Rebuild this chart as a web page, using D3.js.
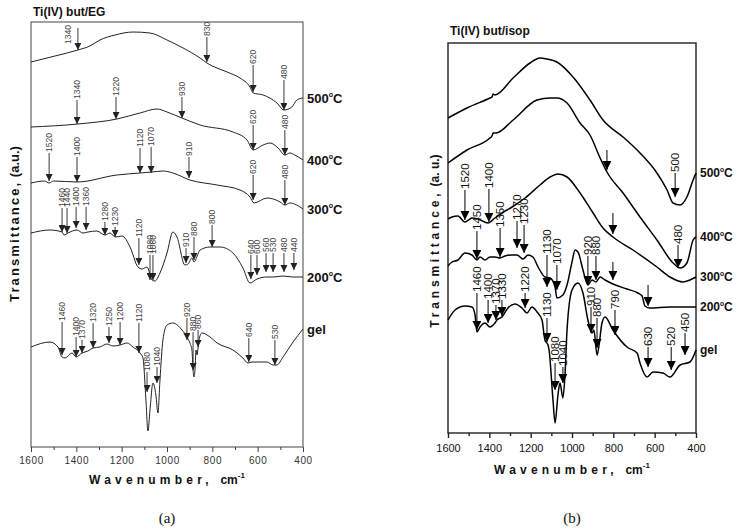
<!DOCTYPE html>
<html>
<head>
<meta charset="utf-8">
<script src="https://cdn.jsdelivr.net/npm/d3@7"></script>
<style>
body { margin: 0; background: #fff; }
svg { display: block; font-family: "Liberation Sans", Arial, sans-serif; }
</style>
</head>
<body>
<div id="chart"></div>
<script>
// x ticks, shared by both panels
var majorTicks = [1600, 1400, 1200, 1000, 800, 600, 400]
var minorTicks = [1500, 1300, 1100, 900, 700, 500]

/* (a) Ti(IV) but/EG : [wavenumber, transmittance a.u.] */
var eg500 = [[1600,385],[1494,391],[1393,397],[1340,401],[1296,407],[1229,412],[1150,415],[1075,414],[1000,407],[929,399],[854,389],[824,384],[735,375],[678,369],[634,360],[620,354],[576,352],[515,344],[484,337],[449,340],[427,347],[400,349]]
var eg400 = [[1600,320],[1393,323],[1221,328],[1119,334],[1044,338],[1000,335],[934,329],[854,322],[709,315],[647,307],[620,297],[576,302],[545,304],[510,299],[480,292],[458,294],[436,292],[400,287]]
var eg300 = [[1600,264],[1540,266],[1520,264],[1500,266],[1397,265],[1221,272],[1119,274],[1066,275],[1018,276],[974,274],[899,267],[779,262],[678,257],[634,250],[616,244],[559,249],[501,245],[480,242],[458,244],[400,238]]
var eg200 = [[1600,214],[1516,217],[1463,215],[1454,212],[1437,214],[1397,217],[1371,214],[1349,215],[1309,216],[1274,212],[1251,214],[1229,210],[1198,211],[1163,200],[1128,180],[1110,178],[1088,180],[1066,167],[1053,166],[1031,174],[1000,194],[974,215],[956,210],[921,182],[907,183],[890,189],[881,185],[854,197],[810,200],[766,200],[709,194],[665,179],[634,164],[603,168],[559,170],[532,170],[488,171],[444,170],[400,170]]
var egGel = [[1600,100],[1516,105],[1481,100],[1463,90],[1450,89],[1419,94],[1401,90],[1375,94],[1349,96],[1326,99],[1296,100],[1265,103],[1238,101],[1207,102],[1176,104],[1150,100],[1119,94],[1106,89],[1093,47],[1084,16],[1075,37],[1062,64],[1049,52],[1040,34],[1031,67],[1018,107],[1000,122],[974,124],[934,117],[912,110],[899,104],[890,97],[885,77],[881,70],[876,79],[872,97],[868,92],[859,107],[846,114],[810,110],[779,104],[709,97],[665,89],[643,84],[625,85],[590,85],[559,85],[532,82],[515,82],[488,90],[444,105],[400,118]]
var egNames = ["500", "400", "300", "200", "gel"]

// band marks: [label, arrow wavenumber, label bottom, arrow tip, (arrow top), (label wavenumber)]
var egBands500 = [["1340",1393,402,397,419,1437],["830",824,410,385],["620",620,382,355],["480",484,367,337]]
var egBands400 = [["1340",1397,347,323],["1220",1225,350,328],["930",934,350,329],["620",620,322,297],["480",480,317,292]]
var egBands300 = [["1520",1520,294,266],["1400",1397,290,265],["1120",1119,299,274],["1070",1070,300,274],["910",903,290,269],["620",620,272,247],["480",480,267,242]]
var egBands200 = [["1460",1463,239,215],["1440",1441,239,214],["1400",1401,240,219],["1360",1357,240,217],["1280",1274,225,212],["1230",1229,220,210],["1120",1124,209,182],["1080",1075,192,167],["1060",1062,192,167],["910",916,199,184],["880",881,210,187],["800",801,222,200],["640",630,192,168],["600",603,192,172],["560",563,194,175],["530",532,194,175],["480",484,194,175],["440",440,194,177]]
var egBandsGel = [["1460",1463,125,92],["1400",1401,110,90],["1370",1375,107,94],["1320",1326,124,99],["1250",1256,120,104],["1200",1207,125,102],["1120",1124,124,94],["1080",1088,75,55],["1040",1044,80,64],["920",912,129,107],["880",885,115,77],["860",863,117,100],["640",639,109,85],["530",524,107,82]]

/* (b) Ti(IV) but/isop */
var isop500 = [[1600,315],[1508,325],[1397,335],[1387,336],[1382,339],[1373,338],[1285,355],[1203,370],[1155,375],[1121,374],[1073,371],[995,356],[913,333],[850,313],[753,296],[671,280],[589,260],[540,243],[511,230],[477,228],[444,236],[414,253],[400,260]]
var isop400 = [[1600,270],[1508,283],[1397,295],[1387,297],[1382,300],[1368,300],[1285,313],[1169,333],[1106,335],[1073,335],[1024,330],[961,310],[913,298],[864,275],[831,261],[753,240],[671,216],[589,193],[511,170],[477,165],[444,170],[414,193],[400,196]]
var isop300 = [[1600,214],[1581,216],[1552,217],[1518,211],[1484,215],[1455,214],[1406,210],[1373,215],[1339,220],[1290,226],[1227,235],[1155,248],[1106,256],[1068,259],[1024,256],[961,240],[898,220],[850,205],[802,196],[705,183],[589,166],[526,156],[463,151],[429,153],[400,156]]
var isop200 = [[1600,167],[1581,171],[1552,173],[1518,180],[1484,178],[1460,173],[1445,176],[1421,173],[1397,176],[1373,176],[1348,175],[1324,177],[1290,178],[1266,178],[1237,174],[1213,178],[1189,176],[1164,166],[1131,156],[1106,155],[1082,146],[1073,135],[1044,138],[1024,148],[1000,171],[985,183],[971,181],[947,163],[923,148],[903,153],[884,151],[864,156],[840,153],[802,149],[734,144],[681,140],[661,137],[647,127],[623,125],[526,126],[400,126]]
var isopGel = [[1600,113],[1566,123],[1518,127],[1484,126],[1469,118],[1460,101],[1445,106],[1421,110],[1397,106],[1373,110],[1363,113],[1339,116],[1310,125],[1276,129],[1242,125],[1218,120],[1194,126],[1169,121],[1145,113],[1131,93],[1116,88],[1111,83],[1092,33],[1082,10],[1068,38],[1058,50],[1044,35],[1034,58],[1024,103],[1000,143],[971,150],[947,140],[923,113],[903,100],[894,103],[879,78],[869,88],[855,110],[840,116],[802,103],[734,86],[685,80],[671,70],[637,56],[608,61],[560,60],[526,56],[477,68],[429,71],[400,83]]
var isopNames = ["500", "400", "300", "200", "gel"]

var isopBands500 = [["500",501,260,236]]
var isopBands400 = [["",831,283,263],["480",487,188,165]]
var isopBands300 = [["1520",1518,243,213],["1400",1402,244,211],["",802,220,199]]
var isopBands200 = [["1450",1460,202,174],["1350",1348,205,176],["1270",1266,212,185],["1230",1232,208,180],["1130",1121,178,146],["1070",1073,168,143],["920",923,177,148],["880",884,177,153],["",802,171,153],["",632,148,127]]
var isopBandsGel = [["1460",1460,140,103],["1400",1406,133,110],["1370",1368,128,113],["1330",1339,133,117],["1220",1227,140,125],["1130",1121,115,91],["1080",1082,70,43],["1040",1044,66,50],["910",908,126,100],["880",879,115,85],["790",792,123,98],["630",632,86,66],["520",520,86,63],["450",453,100,78]]

var svg = d3.select("#chart").append("svg")
    .attr("width", 737)
    .attr("height", 530)

var defs = svg.append("defs")

function drawPanel(p) {
    var x = d3.scaleLinear().domain([1600, 400]).range([p.left, p.right])
    var y = d3.scaleLinear().domain([0, p.ymax]).range([p.bottom, p.top])
    var g = svg.append("g")

    defs.append("marker")
        .attr("id", p.id + "-arrow")
        .attr("markerUnits", "userSpaceOnUse")
        .attr("markerWidth", p.head * 2)
        .attr("markerHeight", p.head * 2)
        .attr("viewBox", "0 0 10 10")
        .attr("refX", 10).attr("refY", 5)
        .attr("orient", "auto")
        .append("path")
        .attr("d", "M0,0 L10,5 L0,10 Z")
        .attr("fill", p.ink)

    /* frame */
    g.append("rect")
        .attr("x", p.left).attr("y", p.top)
        .attr("width", p.right - p.left).attr("height", p.bottom - p.top)
        .attr("fill", "none")
        .attr("stroke", p.frame)
        .attr("stroke-width", p.frameW)

    /* x axis, major + minor */
    var xMajor = d3.axisBottom(x).tickValues(majorTicks).tickSize(5).tickPadding(p.pad).tickFormat(d3.format("d"))
    var xMinor = d3.axisBottom(x).tickValues(minorTicks).tickSize(3).tickFormat("")
    var ax = g.append("g").attr("transform", "translate(0," + p.bottom + ")").call(xMajor)
    g.append("g").attr("transform", "translate(0," + p.bottom + ")").call(xMinor)
        .call(s => s.select(".domain").remove())
        .selectAll("line").attr("stroke", p.frame).attr("stroke-width", p.frameW)
    ax.select(".domain").remove()
    ax.selectAll("line").attr("stroke", p.frame).attr("stroke-width", p.frameW)
    ax.selectAll("text")
        .attr("font-family", "Liberation Sans, Arial, sans-serif")
        .attr("font-size", p.tickFont)
        .attr("letter-spacing", p.tickSpace)
        .attr("fill", p.tickColor)

    /* axis titles */
    var xt = g.append("text")
        .attr("x", (p.left + p.right) / 2)
        .attr("y", p.xtY)
        .attr("text-anchor", "middle")
        .attr("font-weight", "bold")
        .attr("font-size", 12)
        .attr("fill", "#111")
    xt.append("tspan").attr("letter-spacing", 4.2).text("Wavenumber, ")
    xt.append("tspan").text("cm")
    xt.append("tspan").attr("font-size", 8).attr("dy", -6).text("-1")

    var yt = g.append("text")
        .attr("transform", "translate(" + p.ytX + "," + p.ytY + ") rotate(-90)")
        .attr("text-anchor", "middle")
        .attr("font-weight", "bold")
        .attr("font-size", p.ytFont)
        .attr("fill", "#111")
    yt.append("tspan").attr("letter-spacing", p.ytSpace).text("Transmittance,")
    yt.append("tspan").text(" " + p.ytUnit)

    g.append("text")
        .attr("x", p.left + 2).attr("y", p.titleY)
        .attr("font-weight", "bold")
        .attr("font-size", 12)
        .attr("fill", "#111")
        .text(p.title)

    g.append("text")
        .attr("x", (p.left + p.right) / 2).attr("y", 523)
        .attr("text-anchor", "middle")
        .attr("font-family", "Liberation Serif, Times New Roman, serif")
        .attr("font-size", 15)
        .attr("fill", "#111")
        .text(p.tag)

    /* spectra */
    var line = d3.line()
        .x(d => x(d[0]))
        .y(d => y(d[1]))
        .curve(d3.curveMonotoneX)

    g.selectAll(".spectrum")
        .data(p.curves).enter()
        .append("path")
        .attr("class", "spectrum")
        .attr("d", line)
        .attr("fill", "none")
        .attr("stroke", p.ink)
        .attr("stroke-width", p.lineW)
        .attr("stroke-linejoin", "round")

    /* temperature labels at the right end of each curve */
    p.curves.forEach(function(c, i) {
        var last = c[c.length - 1]
        var t = g.append("text")
            .attr("x", p.right + 4)
            .attr("y", y(last[1]))
            .attr("dy", "0.35em")
            .attr("font-weight", "bold")
            .attr("font-size", p.tempFont)
            .attr("fill", "#111")
        t.append("tspan").text(p.names[i])
        if (p.names[i] !== "gel") {
            t.append("tspan").attr("font-size", p.tempFont * 0.55).attr("dy", -p.tempFont * 0.45).text("o")
            t.append("tspan").attr("dy", p.tempFont * 0.45).text("C")
        }
    })

    /* band arrows and labels */
    var bands = []
    p.bands.forEach(list => list.forEach(b => bands.push(b)))

    g.selectAll(".band")
        .data(bands).enter()
        .append("line")
        .attr("class", "band")
        .attr("x1", d => x(d[1])).attr("x2", d => x(d[1]))
        .attr("y1", d => y(d.length > 4 ? d[4] : d[2]))
        .attr("y2", d => y(d[3]))
        .attr("stroke", p.ink)
        .attr("stroke-width", p.arrowW)
        .attr("marker-end", "url(#" + p.id + "-arrow)")

    g.selectAll(".band-label")
        .data(bands.filter(d => d[0] !== "")).enter()
        .append("text")
        .attr("class", "band-label")
        .attr("transform", d => "translate(" + x(d.length > 5 ? d[5] : d[1]) + "," + (y(d[2]) - 1) + ") rotate(-90)")
        .attr("dy", "0.35em")
        .attr("font-family", p.bandFamily)
        .attr("font-size", p.bandFont)
        .attr("fill", p.bandColor)
        .text(d => d[0])
}

drawPanel({
    id: "a", left: 31, right: 303, top: 22, bottom: 447, ymax: 425,
    curves: [eg500, eg400, eg300, eg200, egGel], names: egNames,
    bands: [egBands500, egBands400, egBands300, egBands200, egBandsGel],
    ink: "#222", lineW: 1, arrowW: 0.9, head: 3.5,
    frame: "#444", frameW: 1,
    pad: 5, tickFont: 10, tickSpace: 0.6, tickColor: "#333",
    xtY: 484, ytX: 19, ytY: 224, ytFont: 13, ytSpace: 2.1, ytUnit: "(a.u.)",
    title: "Ti(IV) but/EG", titleY: 16, tag: "(a)",
    tempFont: 13, bandFamily: "Liberation Sans Narrow, Arial Narrow, sans-serif", bandFont: 8.5, bandColor: "#444"
})

drawPanel({
    id: "b", left: 448, right: 696, top: 43, bottom: 433, ymax: 390,
    curves: [isop500, isop400, isop300, isop200, isopGel], names: isopNames,
    bands: [isopBands500, isopBands400, isopBands300, isopBands200, isopBandsGel],
    ink: "#000", lineW: 1.5, arrowW: 1, head: 4.5,
    frame: "#222", frameW: 1.4,
    pad: 6, tickFont: 11, tickSpace: 0, tickColor: "#111",
    xtY: 474, ytX: 439, ytY: 241, ytFont: 12, ytSpace: 3.8, ytUnit: "(a. u.)",
    title: "Ti(IV) but/isop", titleY: 35, tag: "(b)",
    tempFont: 12, bandFamily: "Liberation Sans, Arial, sans-serif", bandFont: 11.5, bandColor: "#111"
})
</script>
</body>
</html>
